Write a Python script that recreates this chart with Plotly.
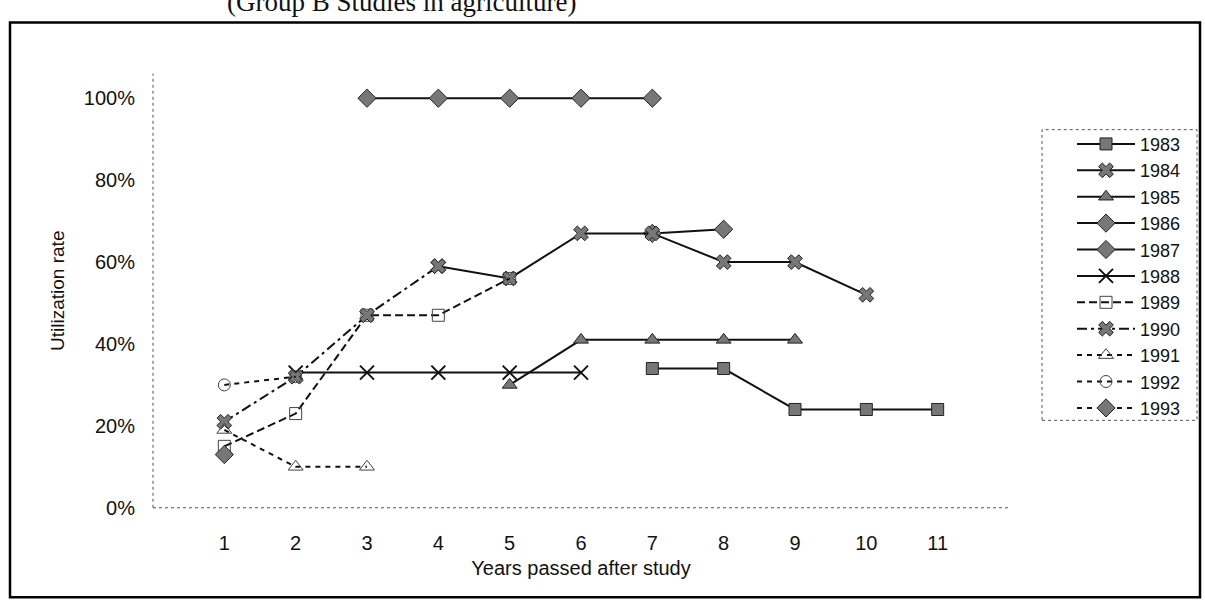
import plotly.graph_objects as go

# ---------------- data ----------------
years = [1, 2, 3, 4, 5, 6, 7, 8, 9, 10, 11]
y_ticks = [0.0, 0.2, 0.4, 0.6, 0.8, 1.0]

series_names = ["1983", "1984", "1985", "1986", "1987", "1988",
                "1989", "1990", "1991", "1992", "1993"]

s1983 = [None, None, None, None, None, None, 0.34, 0.34, 0.24, 0.24, 0.24]
s1984 = [None, None, None, 0.59, 0.56, 0.67, 0.67, 0.60, 0.60, 0.52, None]
s1985 = [None, None, None, None, 0.30, 0.41, 0.41, 0.41, 0.41, None, None]
s1986 = [None, None, None, None, None, None, 0.67, 0.68, None, None, None]
s1987 = [None, None, 1.00, 1.00, 1.00, 1.00, 1.00, None, None, None, None]
s1988 = [None, 0.33, 0.33, 0.33, 0.33, 0.33, None, None, None, None, None]
s1989 = [0.15, 0.23, 0.47, 0.47, 0.56, None, None, None, None, None, None]
s1990 = [0.21, 0.32, 0.47, 0.59, None, None, None, None, None, None, None]
s1991 = [0.19, 0.10, 0.10, None, None, None, None, None, None, None, None]
s1992 = [0.30, 0.32, None, None, None, None, None, None, None, None, None]
s1993 = [0.13, None, None, None, None, None, None, None, None, None, None]

series_values = [s1983, s1984, s1985, s1986, s1987, s1988,
                 s1989, s1990, s1991, s1992, s1993]

# drawing order (later = on top); legend order kept by legendrank
draw_order = ["1986", "1983", "1984", "1985", "1987", "1988",
              "1989", "1990", "1991", "1992", "1993"]

# ---------------- styles ----------------
HATCH = "#777777"
INK = "#111111"
styles = {
    "1983": dict(dash="solid", symbol="square", fill=HATCH, size=12),
    "1984": dict(dash="solid", symbol="x", fill=HATCH, size=13),
    "1985": dict(dash="solid", symbol="triangle-up", fill=HATCH, size=13),
    "1986": dict(dash="solid", symbol="diamond", fill=HATCH, size=14),
    "1987": dict(dash="solid", symbol="diamond", fill=HATCH, size=14),
    "1988": dict(dash="solid", symbol="x-thin-open", fill=INK, size=14),
    "1989": dict(dash="8px,4px", symbol="square-open", fill="#444444", size=12),
    "1990": dict(dash="10px,4px,3px,4px", symbol="x", fill=HATCH, size=13),
    "1991": dict(dash="5px,5px", symbol="triangle-up-open", fill="#444444", size=13),
    "1992": dict(dash="5px,5px", symbol="circle-open", fill="#444444", size=12),
    "1993": dict(dash="5px,5px", symbol="diamond", fill=HATCH, size=14),
}

W, H = 1205, 616
# plot area in pixels
PX_L, PX_R, PX_T, PX_B = 153, 1009, 75, 517

values_by_name = dict(zip(series_names, series_values))

fig = go.Figure()
for name in draw_order:
    vals = values_by_name[name]
    st = styles[name]
    open_sym = st["symbol"].endswith("-open")
    fig.add_trace(go.Scatter(
        x=years, y=vals, name=name, mode="lines+markers",
        connectgaps=False,
        legendrank=series_names.index(name) + 1,
        line=dict(color=INK, width=2, dash=st["dash"]),
        marker=dict(symbol=st["symbol"], size=st["size"],
                    color=st["fill"],
                    line=dict(color=st["fill"] if open_sym else "#222222",
                              width=2 if st["symbol"] == "x-thin-open" else 1)),
    ))

font_family = "Liberation Sans, Arial, sans-serif"

fig.update_layout(
    width=W, height=H,
    margin=dict(l=0, r=0, t=0, b=0),
    paper_bgcolor="white", plot_bgcolor="white",
    font=dict(family=font_family, size=20, color="#111111"),
    showlegend=True,
    legend=dict(
        x=1072 / W, y=1 - 128 / H, xanchor="left", yanchor="top",
        bgcolor="rgba(0,0,0,0)", borderwidth=0,
        font=dict(family=font_family, size=18, color="#111111"),
        itemwidth=58, traceorder="normal",
    ),
    xaxis=dict(
        domain=[PX_L / W, PX_R / W],
        range=[0, 12], tickmode="array", tickvals=years,
        showgrid=False, zeroline=False, showline=False, ticks="",
        ticklabelstandoff=21,
        tickfont=dict(size=20),
        title=dict(text="Years passed after study", font=dict(size=20), standoff=8),
    ),
    yaxis=dict(
        domain=[1 - PX_B / H, 1 - PX_T / H],
        range=[0, 1.06], tickmode="array", tickvals=y_ticks, tickformat=".0%",
        showgrid=False, zeroline=False, showline=False, ticks="",
        ticklabelstandoff=17,
        tickfont=dict(size=20),
        title=dict(text="Utilization rate", font=dict(size=19), standoff=14),
    ),
)

shapes = []
# dotted axis lines
shapes.append(dict(type="line", xref="x domain", yref="y domain",
                   x0=0, x1=0, y0=0, y1=1,
                   line=dict(color="#555555", width=1, dash="dot")))
shapes.append(dict(type="line", xref="x domain", yref="y domain",
                   x0=0, x1=1, y0=0, y1=0,
                   line=dict(color="#555555", width=1, dash="dot")))
# outer frame
shapes.append(dict(type="rect", xref="paper", yref="paper",
                   x0=10 / W, x1=1200 / W, y0=1 - 608 / H, y1=1 - 23 / H,
                   line=dict(color="#000000", width=2.5)))
# legend box
shapes.append(dict(type="rect", xref="paper", yref="paper",
                   x0=1042 / W, x1=1197 / W, y0=1 - 428 / H, y1=1 - 132 / H,
                   line=dict(color="#555555", width=1, dash="dot")))
fig.update_layout(shapes=shapes)

# clipped caption above the frame (as in the scanned page)
fig.add_annotation(
    text="(Group B Studies in agriculture)",
    xref="paper", yref="paper", x=225 / W, y=1 - 19 / H,
    xanchor="left", yanchor="bottom", showarrow=False,
    font=dict(family="Liberation Serif, Times New Roman, serif", size=27, color="#111111"),
)

fig.write_html("out.html")
